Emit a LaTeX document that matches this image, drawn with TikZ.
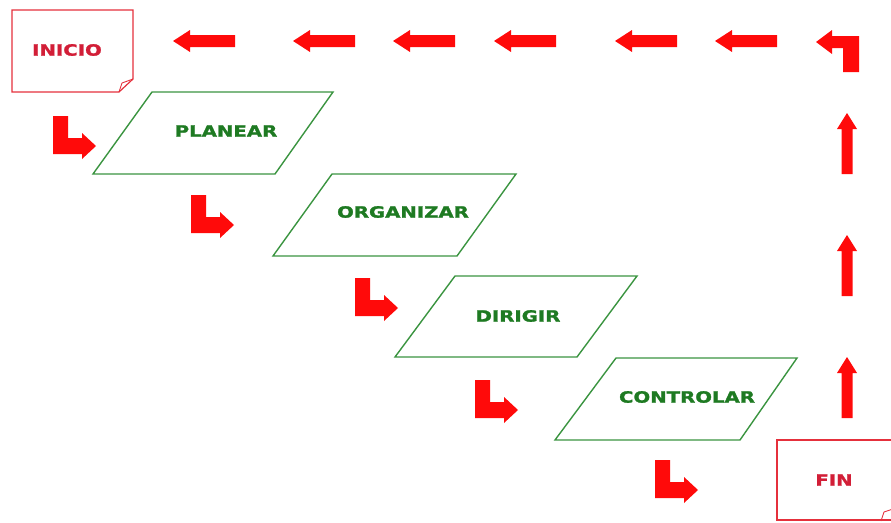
\documentclass[tikz,border=0pt]{standalone}
\usepackage{fontspec}
\newfontfamily\boxfont{DejaVu Sans}[FakeStretch=1.27,FakeBold=1.6]
\definecolor{arrowred}{HTML}{FF0A0A}
\definecolor{noteline}{HTML}{E5303C}
\definecolor{notetext}{HTML}{D21E37}
\definecolor{stepline}{HTML}{3A9440}
\definecolor{steptext}{HTML}{1E7A22}
\tikzset{
  notebox/.style={draw=noteline, line width=1.2pt, fill=white, line join=miter},
  notelabel/.style={text=notetext, font=\boxfont\bfseries\fontsize{15.5}{15.5}\selectfont, inner sep=0pt},
  stepbox/.style={draw=stepline, line width=1.4pt, line join=miter},
  steplabel/.style={text=steptext, font=\boxfont\bfseries\fontsize{15.5}{15.5}\selectfont, inner sep=0pt},
  % block arrow pointing left, tip at the pic origin
  leftarrow/.pic={\fill[arrowred] (0,0) -- (17,-11) -- (17,-6) -- (62,-6) -- (62,6) -- (17,6) -- (17,11) -- cycle;},
  % block arrow pointing up, tip at the pic origin
  uparrow/.pic={\fill[arrowred] (0,0) -- (10,16) -- (5.5,16) -- (5.5,61) -- (-5.5,61) -- (-5.5,16) -- (-10,16) -- cycle;},
  % bent arrow: down, then right; origin at the top-left of the stem
  turnarrow/.pic={\fill[arrowred] (0,0) -- (15,0) -- (15,22) -- (29,22) -- (29,17) -- (43,30) -- (29,43) -- (29,38) -- (0,38) -- cycle;},
  % bent arrow: up, then left; tip at the pic origin
  cornerarrow/.pic={\fill[arrowred] (0,0) -- (16,-12) -- (16,-6) -- (43,-6) -- (43,30) -- (27,30) -- (27,6) -- (16,6) -- (16,12) -- cycle;}
}
\begin{document}
\begin{tikzpicture}[x=1pt,y=-1pt]
\useasboundingbox (0,0) rectangle (891,522);

% start and end notes with a curled corner
\draw[notebox] (12,10) -- (133,10) -- (133,79) -- (119,92) -- (12,92) -- cycle;
\draw[noteline, line width=0.9pt] (119,92) -- (122,83) -- (133,79);
\node[notelabel] (inicio) at (67,50) {INICIO};

\draw[notebox] (777,440) -- (900,440) -- (900,520) -- (777,520) -- cycle;
\draw[noteline, line width=0.9pt] (881,521) -- (884,512) -- (893,509);
\node[notelabel] (fin) at (834,480) {FIN};

% process steps
\draw[stepbox] (152,92) -- (333,92) -- (275,174) -- (93,174) -- cycle;
\node[steplabel] (planear) at (226,131) {PLANEAR};

\draw[stepbox] (332,174) -- (516,174) -- (457,256) -- (273,256) -- cycle;
\node[steplabel] (organizar) at (403,212) {ORGANIZAR};

\draw[stepbox] (455,276) -- (637,276) -- (577,357) -- (395,357) -- cycle;
\node[steplabel] (dirigir) at (518,316) {DIRIGIR};

\draw[stepbox] (616,358) -- (797,358) -- (740,440) -- (555,440) -- cycle;
\node[steplabel] (controlar) at (687,397) {CONTROLAR};

% bent arrows between the steps
\pic at (53,116) {turnarrow};
\pic at (191,195) {turnarrow};
\pic at (355,278) {turnarrow};
\pic at (475,380) {turnarrow};
\pic at (655,460) {turnarrow};

% return path: up the right side, then back to the start
\pic at (847,357) {uparrow};
\pic at (847,235) {uparrow};
\pic at (847,113) {uparrow};
\pic at (816,42) {cornerarrow};
\pic at (715,41) {leftarrow};
\pic at (615,41) {leftarrow};
\pic at (494,41) {leftarrow};
\pic at (393,41) {leftarrow};
\pic at (293,41) {leftarrow};
\pic at (173,41) {leftarrow};
\end{tikzpicture}
\end{document}
